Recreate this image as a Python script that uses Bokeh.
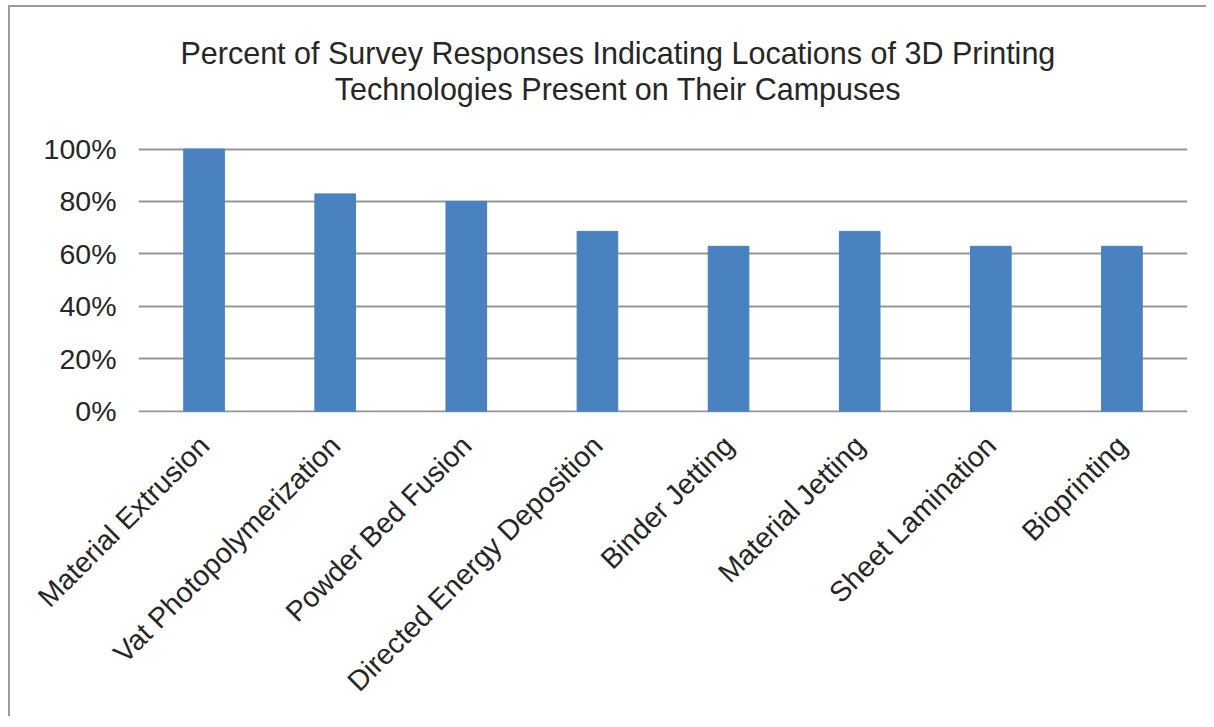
import math
from bokeh.plotting import figure
from bokeh.models import NumeralTickFormatter, FixedTicker, Range1d, FactorRange, Label
from bokeh.embed import file_html
from bokeh.resources import INLINE

categories = ["Material Extrusion", "Vat Photopolymerization", "Powder Bed Fusion",
              "Directed Energy Deposition", "Binder Jetting", "Material Jetting",
              "Sheet Lamination", "Bioprinting"]
percents = [1.0, 0.829, 0.80, 0.686, 0.629, 0.686, 0.629, 0.629]
title_lines = ["Percent of Survey Responses Indicating Locations of 3D Printing",
               "Technologies Present on Their Campuses"]
y_ticks = [0, 0.2, 0.4, 0.6, 0.8, 1.0]

FONT = "Liberation Sans"
TXT = "#262626"
FS = "28.5px"

# the frame extends above 100% so the two-line title can sit inside it
Y_TOP = 1.540
p = figure(width=1198, height=711, output_backend="svg", toolbar_location=None,
           x_range=FactorRange(*categories, range_padding=0),
           y_range=Range1d(-0.005, Y_TOP),
           min_border_left=128, min_border_right=21, min_border_top=0, min_border_bottom=306,
           styles={"border-left": "2px solid #9a9a9a", "border-top": "2px solid #9a9a9a",
                   "box-sizing": "border-box", "margin-left": "8px", "margin-top": "5px"})
p.outline_line_color = None
p.background_fill_color = "white"
p.border_fill_color = "white"

title_x = len(categories) / 2 - 0.344
for txt, yy in zip(title_lines, [1.368, 1.230]):
    p.add_layout(Label(x=title_x, y=yy, text=txt, text_align="center",
                       text_baseline="alphabetic", text_font=FONT,
                       text_font_size="30.5px", text_color=TXT))

p.vbar(x=categories, top=percents, width=0.31, color="#4A81C0")

p.xgrid.grid_line_color = None
p.ygrid.grid_line_color = "#969696"
p.ygrid.grid_line_width = 2
p.ygrid.ticker = FixedTicker(ticks=y_ticks)

p.yaxis.ticker = FixedTicker(ticks=y_ticks)
p.yaxis.formatter = NumeralTickFormatter(format="0%")
for ax in (p.xaxis[0], p.yaxis[0]):
    ax.axis_line_color = None
    ax.major_tick_line_color = None
    ax.minor_tick_line_color = None
    ax.major_tick_out = 0
    ax.major_tick_in = 0
    ax.major_label_text_font = FONT
    ax.major_label_text_font_size = FS
    ax.major_label_text_color = TXT
p.yaxis.major_label_standoff = 22
p.xaxis.major_label_standoff = 28
p.xaxis.major_label_orientation = math.pi / 4

open("out.html", "w").write(file_html(p, INLINE))
